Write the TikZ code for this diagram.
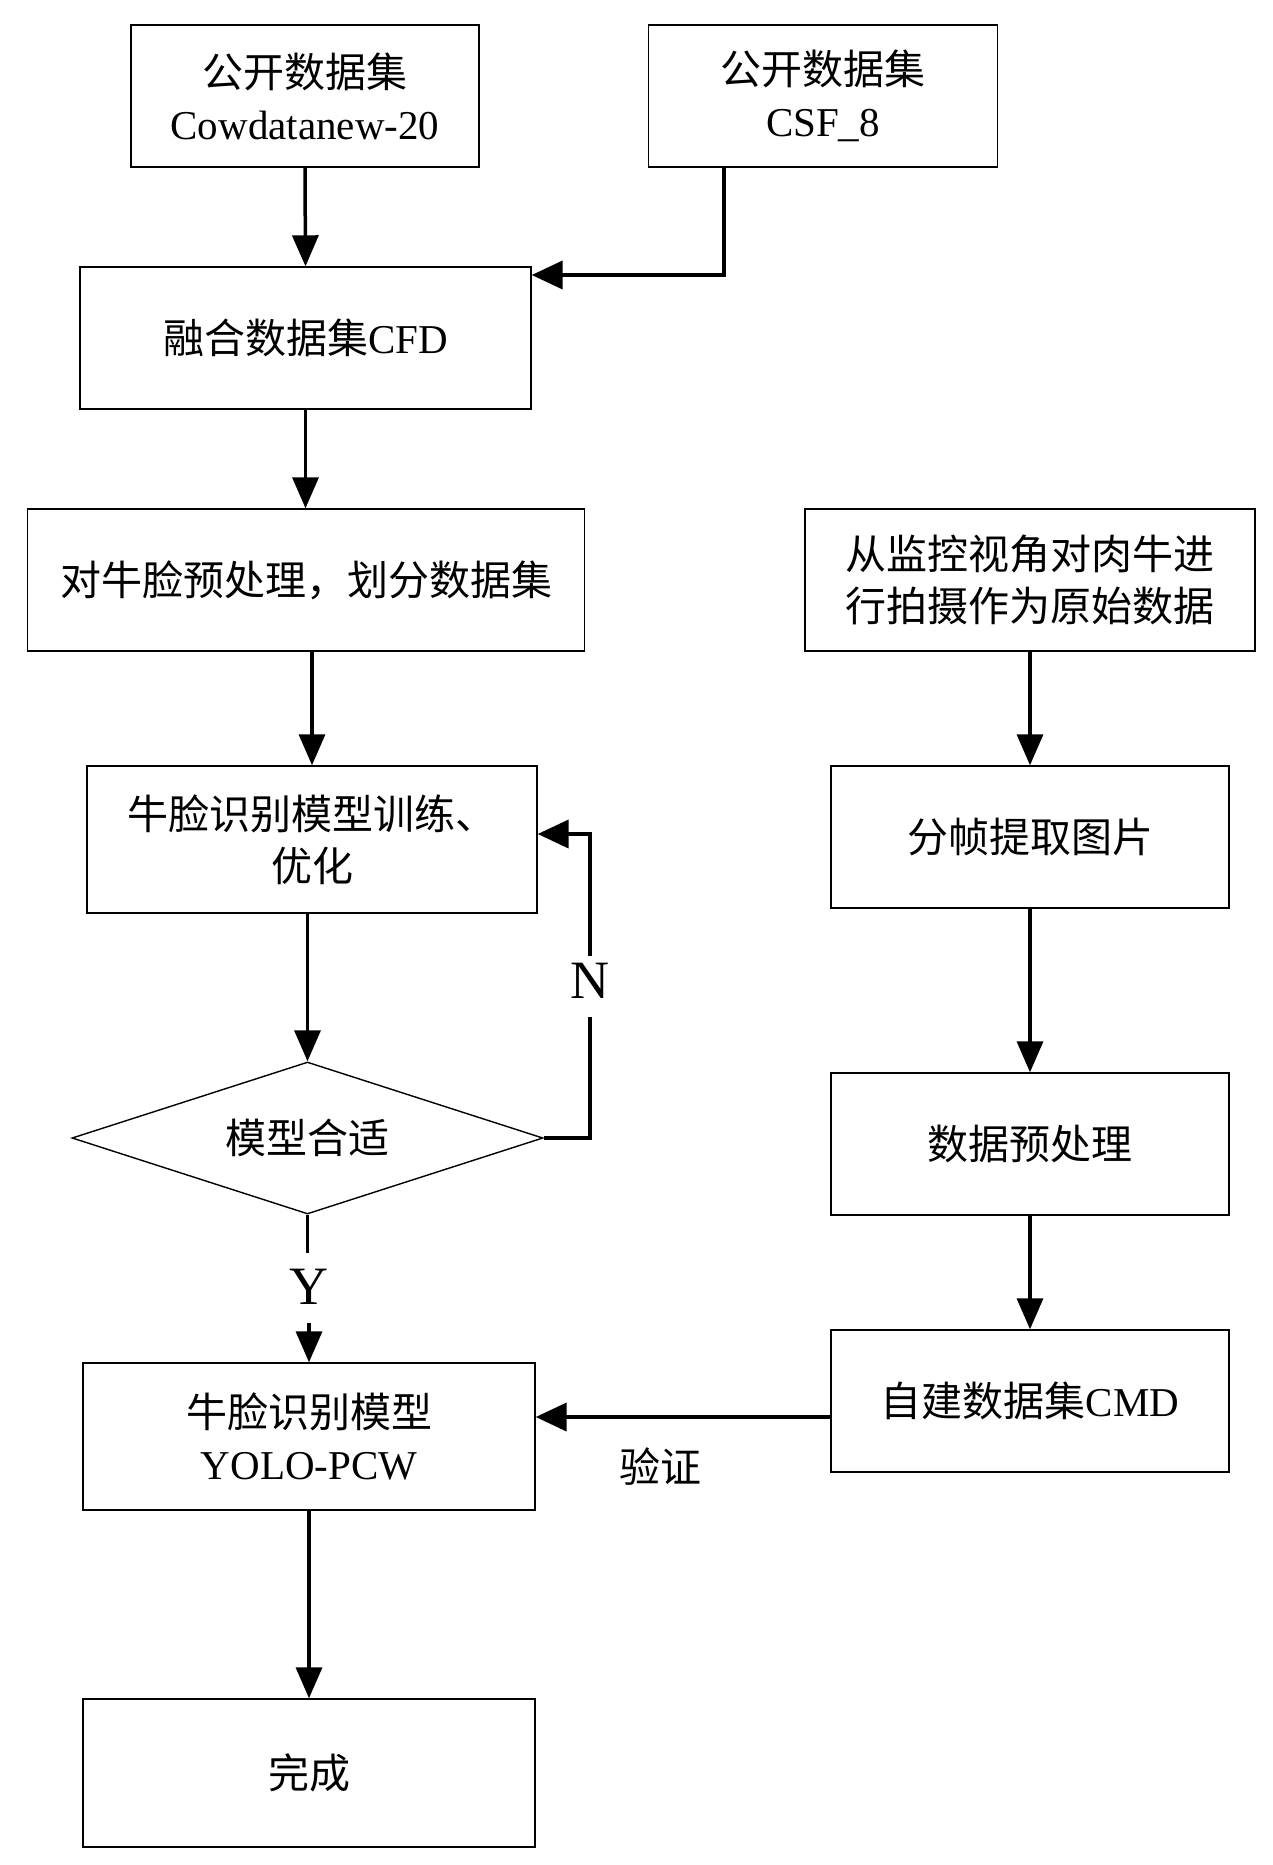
\documentclass[tikz,border=0pt]{standalone}
\usepackage{fontspec}
\setmainfont{Liberation Serif}
\newfontfamily\cjk{Noto Sans CJK SC}
\usetikzlibrary{arrows.meta,shapes.geometric}
\newcommand\fs{\fontsize{41}{52}\selectfont}
\begin{document}
\begin{tikzpicture}[x=1pt,y=-1pt,
  box/.style={draw, line width=1.4pt, inner sep=0pt, align=center, font=\fs, minimum height=142pt},
  cbox/.style={box, font=\fs\cjk},
  arr/.style={line width=3.5pt, -{Triangle[length=31pt,width=26pt]}},
  harr/.style={line width=4pt, -{Triangle[length=31pt,width=28pt]}},
  conn/.style={line width=3.5pt},
  lab/.style={font=\fontsize{54}{60}\selectfont, inner sep=0pt},
]
\useasboundingbox (0,0) rectangle (1273,1865);
\fill[white] (0,0) rectangle (1273,1865);

% nodes
\node[box, minimum width=348pt] (d1) at (305,96) {{\cjk 公开数据集}\\Cowdatanew-20};
\node[box, minimum width=349pt] (d2) at (823,96) {{\cjk 公开数据集}\\CSF\_8};
\node[box, minimum width=451pt] (cfd) at (305.5,338) {{\cjk 融合数据集}CFD};
\node[cbox, minimum width=557pt] (pre) at (306,580) {对牛脸预处理，划分数据集};
\node[cbox, minimum width=450pt] (raw) at (1030,580) {从监控视角对肉牛进\\行拍摄作为原始数据};
\node[cbox, minimum width=450pt, minimum height=147pt] (train) at (312,839.5) {牛脸识别模型训练、\\优化};
\node[cbox, minimum width=398pt] (frame) at (1030,837) {分帧提取图片};
\node[diamond, draw, line width=1.4pt, aspect=3.1, minimum width=471pt, minimum height=152pt, inner sep=0pt, font=\fs\cjk] (dia) at (307.5,1138) {模型合适};
\node[cbox, minimum width=398pt] (prep) at (1030,1144) {数据预处理};
\node[box, minimum width=398pt] (cmd) at (1030,1401) {{\cjk 自建数据集}CMD};
\node[box, minimum width=452pt, minimum height=147pt] (yolo) at (309,1436.5) {{\cjk 牛脸识别模型}\\YOLO-PCW};
\node[cbox, minimum width=452pt, minimum height=148pt] (done) at (309,1773) {完成};
\node[font=\fs\cjk, inner sep=0pt] (ver) at (660,1467) {验证};
\node[lab] (N) at (590,981) {N};
\node[lab] (Y) at (309,1287) {Y};

% helper coordinates
\coordinate (c1) at (724,275);
\coordinate (n0) at (590,834);
\coordinate (n1) at (590,956);
\coordinate (n2) at (590,1017);
\coordinate (y1) at (307.5,1253);
\coordinate (y2) at (309,1323);
\coordinate (v) at (700,1417);

% connectors
\draw[arr] (d1.south) -- (cfd.north);
\draw[harr] (d2.south -| c1) -- (c1) -- (cfd.east |- c1);
\draw[arr] (cfd.south) -- (pre.north -| cfd.south);
\draw[arr] (pre.south -| train.north) -- (train.north);
\draw[arr] (train.south -| dia.north) -- (dia.north);
\draw[conn] (dia.east) -| (n2);
\draw[harr] (n1) -- (n0) -- (train.east |- n0);
\draw[conn] (dia.south) -- (y1);
\draw[arr] (y2) -- (yolo.north);
\draw[arr] (yolo.south) -- (done.north);
\draw[arr] (raw.south) -- (frame.north);
\draw[arr] (frame.south) -- (prep.north);
\draw[arr] (prep.south) -- (cmd.north);
\draw[harr] (cmd.west |- v) -- (yolo.east |- v);
\end{tikzpicture}
\end{document}
